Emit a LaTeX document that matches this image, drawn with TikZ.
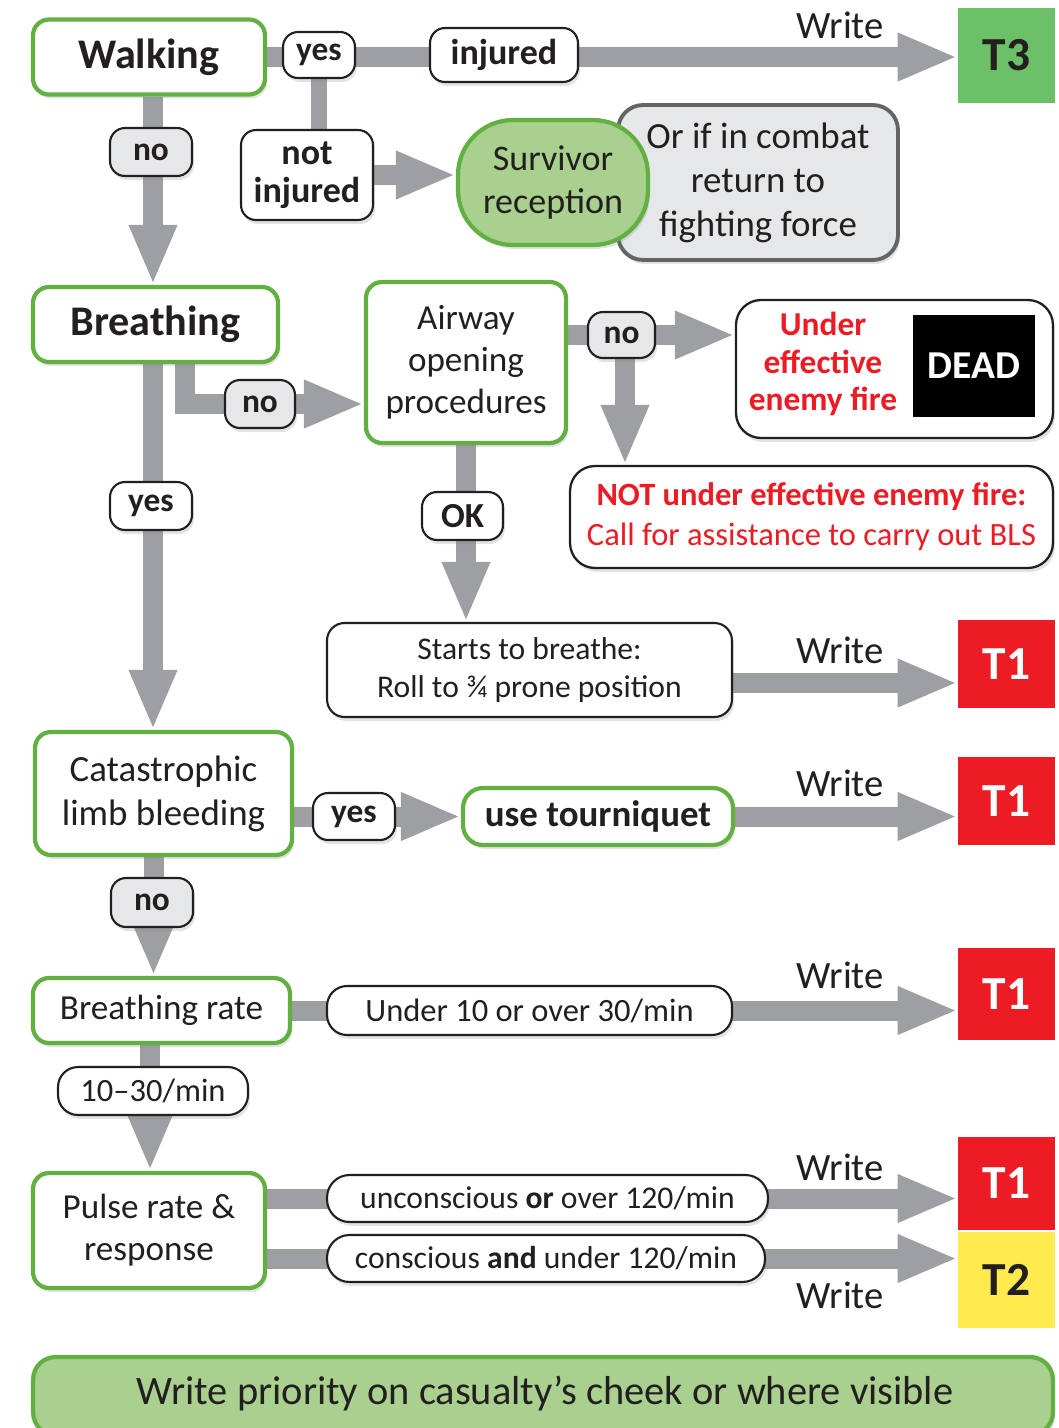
\documentclass[tikz,border=0pt]{standalone}
\usepackage{fontspec}
\setmainfont{Carlito}
\usepackage{tikz}
\usetikzlibrary{arrows.meta, positioning, shadows}
\definecolor{mygreen}{RGB}{98,175,66}
\definecolor{mylightgreen}{RGB}{169,208,142}
\definecolor{mytgreen}{RGB}{108,192,103}
\definecolor{myred}{RGB}{237,28,36}
\definecolor{myyellow}{RGB}{255,235,80}
\definecolor{mygray}{RGB}{157,159,162}
\definecolor{mylightgray}{RGB}{230,231,232}
\definecolor{mydarkgray}{RGB}{99,100,102}
\definecolor{mydark}{RGB}{35,31,32}
\pgfdeclarelayer{bg}
\pgfsetlayers{bg,main}
\tikzset{
  myshadow/.style={drop shadow={shadow xshift=0.04cm, shadow yshift=-0.08cm, opacity=0.22}},
  block/.style={rectangle, draw=mygreen, fill=white, line width=2.4pt, rounded corners=0.32cm,
    align=center, text=mydark, inner sep=0pt, myshadow, font=\fontsize{20}{24}\selectfont},
  lbl/.style={rectangle, draw=mydark, fill=white, line width=1.2pt, rounded corners=0.3cm,
    align=center, text=mydark, inner sep=0pt, myshadow, font=\bfseries\fontsize{19}{22}\selectfont},
  nolbl/.style={lbl, fill=mylightgray},
  tbox/.style={rectangle, inner sep=0pt, minimum width=1.94cm, text=mydark,
    font=\bfseries\fontsize{27}{30}\selectfont},
  writetxt/.style={text=mydark, inner sep=0pt, font=\fontsize{22}{26}\selectfont},
  arrow/.style={draw=mygray, line width=0.4cm, -{Triangle[length=1.2cm, width=0.88cm]}},
  line/.style={draw=mygray, line width=0.4cm}
}

\begin{document}
\begin{tikzpicture}[x=0.02cm, y=-0.02cm]
  \useasboundingbox (0,0) rectangle (1059,1428);
  % Walking
  \node[block, font=\bfseries\fontsize{24}{28}\selectfont, minimum width=4.64cm, minimum height=1.5cm] (walk) at (149,57) {Walking};
  \node[tbox, fill=mytgreen, minimum height=1.9cm] (t3) at (1006.5,55.5) {T3};
  \node[writetxt] (writeA) at (840,25) {Write};
  \node[lbl, minimum width=1.44cm, minimum height=0.92cm] (yesA) at (319,55) {yes};
  \node[lbl, font=\bfseries\fontsize{20.5}{22}\selectfont, minimum width=2.96cm, minimum height=1.08cm] (injured) at (504,55) {injured};
  \node[lbl, font=\bfseries\fontsize{20.5}{22}\selectfont, minimum width=2.64cm, minimum height=1.8cm] (notinj) at (307,175) {not\\injured};
  \node[rectangle, draw=mydarkgray, fill=mylightgray, line width=2.2pt, rounded corners=0.5cm, myshadow,
    text=mydark, align=center, inner sep=0pt, font=\fontsize{21}{25}\selectfont,
    minimum width=5.6cm, minimum height=3.1cm] (combat) at (758,182.5) {Or if in combat\\return to\\fighting force};
  \node[block, fill=mylightgreen, rounded corners=1.1cm, font=\fontsize{20.5}{25}\selectfont,
    minimum width=3.8cm, minimum height=2.5cm] (surv) at (553,182.5) {Survivor\\reception};
  \node[nolbl, minimum width=1.64cm, minimum height=0.96cm] (noA) at (151,152) {no};
  % Breathing
  \node[block, font=\bfseries\fontsize{24}{28}\selectfont, minimum width=4.9cm, minimum height=1.5cm] (breath) at (155.5,324.5) {Breathing};
  \node[block, minimum width=4cm, minimum height=3.22cm] (airway) at (466,362.5) {Airway\\opening\\procedures};
  \node[nolbl, minimum width=1.4cm, minimum height=0.96cm] (noB) at (260,404) {no};
  \node[nolbl, minimum width=1.34cm, minimum height=0.92cm] (noC) at (621.5,335) {no};
  \node[lbl, line width=1.3pt, rounded corners=0.5cm, minimum width=6.34cm, minimum height=2.76cm] (dead) at (894.5,369) {};
  \node[text=myred, align=center, inner sep=0pt, font=\bfseries\fontsize{19}{21.5}\selectfont] (deadtxt) at (823,364) {Under\\effective\\enemy fire};
  \node[rectangle, fill=black, text=white, inner sep=0pt, font=\bfseries\fontsize{22.5}{26}\selectfont,
    minimum width=2.44cm, minimum height=2.04cm] (deadbox) at (974,366) {DEAD};
  \node[lbl, line width=1.3pt, rounded corners=0.5cm, text=myred, font=\fontsize{18.5}{22.7}\selectfont,
    minimum width=9.66cm, minimum height=2.04cm] (notfire) at (811.5,517) {{\bfseries NOT under effective enemy fire:}\\Call for assistance to carry out BLS};
  \node[lbl, font=\bfseries\fontsize{20}{22}\selectfont, minimum width=1.62cm, minimum height=0.96cm] (ok) at (462.5,516) {OK};
  \node[lbl, font=\fontsize{18}{21.5}\selectfont, rounded corners=0.35cm, minimum width=8.1cm, minimum height=1.88cm] (starts) at (529.5,670) {Starts to breathe:\\Roll to ¾ prone position};
  \node[tbox, fill=myred, text=white, minimum height=1.76cm] (t1a) at (1006.5,664) {T1};
  \node[writetxt] (writeB) at (840,650) {Write};
  \node[lbl, minimum width=1.64cm, minimum height=0.96cm] (yesB) at (151,506) {yes};
  % Catastrophic limb bleeding
  \node[block, font=\fontsize{21}{25}\selectfont, minimum width=5.14cm, minimum height=2.46cm] (cat) at (163.5,793.5) {Catastrophic\\limb bleeding};
  \node[block, font=\bfseries\fontsize{21}{25}\selectfont, rounded corners=0.4cm, minimum width=5.4cm, minimum height=1.14cm] (tour) at (598,816.5) {use tourniquet};
  \node[lbl, minimum width=1.64cm, minimum height=0.94cm] (yesC) at (354,816.5) {yes};
  \node[tbox, fill=myred, text=white, minimum height=1.76cm] (t1b) at (1006.5,801) {T1};
  \node[writetxt] (writeC) at (840,783) {Write};
  \node[nolbl, minimum width=1.64cm, minimum height=0.98cm] (noD) at (152,902.5) {no};
  % Breathing rate
  \node[block, minimum width=5.14cm, minimum height=1.3cm] (brate) at (161.5,1010.5) {Breathing rate};
  \node[lbl, font=\fontsize{18.5}{22}\selectfont, rounded corners=0.4cm, minimum width=8.1cm, minimum height=0.98cm] (under) at (529.5,1010.5) {Under 10 or over 30/min};
  \node[tbox, fill=myred, text=white, minimum height=1.84cm] (t1c) at (1006.5,994) {T1};
  \node[writetxt] (writeD) at (840,975) {Write};
  \node[lbl, font=\fontsize{18.5}{22}\selectfont, rounded corners=0.4cm, minimum width=3.8cm, minimum height=0.96cm] (range) at (153,1091) {10--30/min};
  % Pulse rate & response
  \node[block, minimum width=4.64cm, minimum height=2.3cm] (pulse) at (149,1230.5) {Pulse rate \&\\response};
  \node[lbl, font=\fontsize{18}{22}\selectfont, rounded corners=0.45cm, minimum width=8.82cm, minimum height=0.94cm] (unc) at (547.5,1198.5) {unconscious \textbf{or} over 120/min};
  \node[lbl, font=\fontsize{18}{22}\selectfont, rounded corners=0.45cm, minimum width=8.76cm, minimum height=0.94cm] (con) at (546,1258.5) {conscious \textbf{and} under 120/min};
  \node[tbox, fill=myred, text=white, minimum height=1.86cm] (t1d) at (1006.5,1183.5) {T1};
  \node[tbox, fill=myyellow, minimum height=1.92cm] (t2) at (1006.5,1280) {T2};
  \node[writetxt] (writeE) at (840,1167) {Write};
  \node[writetxt] (writeF) at (840,1295) {Write};
  % Bottom note
  \node[block, fill=mylightgreen, rounded corners=0.45cm, font=\fontsize{23}{27}\selectfont,
    minimum width=20.4cm, minimum height=1.56cm] (note) at (543,1396) {};
  \node[text=mydark, inner sep=0pt, font=\fontsize{23}{27}\selectfont] (notetxt) at (545,1393) {Write priority on casualty’s cheek or where visible};
  % Connectors
  \begin{pgfonlayer}{bg}
    \draw[arrow] (walk.east) -- (walk.east -| t3.west);
    \draw[line, line width=0.32cm] (yesA.south) -- (yesA.south |- notinj.north);
    \draw[arrow] (notinj.east) -- (notinj.east -| surv.west);
    \draw[arrow] ([xshift=0.08cm]walk.south) -- ([xshift=0.08cm]walk.south |- breath.north);
    \draw[arrow] ([xshift=-0.05cm]breath.south) -- ([xshift=-0.05cm]breath.south |- cat.north);
    \draw[arrow] ([xshift=0.6cm]breath.south) |- (airway.west |- noB);
    \draw[arrow] (airway.east |- noC) -- (dead.west |- noC);
    \draw[arrow] ([xshift=0.07cm]noC.south) -- ([xshift=0.07cm]noC.south |- notfire.north);
    \draw[arrow] (airway.south) -- (airway.south |- starts.north);
    \draw[arrow] ([yshift=-0.26cm]starts.east) -- ([yshift=-0.26cm]starts.east -| t1a.west);
    \draw[arrow] (cat.east |- tour) -- (tour.west);
    \draw[arrow] (tour.east) -- (tour.east -| t1b.west);
    \draw[arrow] ([xshift=-0.2cm]cat.south) -- ([xshift=-0.2cm]cat.south |- brate.north);
    \draw[arrow] (brate.east) -- (brate.east -| t1c.west);
    \draw[arrow] ([xshift=-0.23cm]brate.south) -- ([xshift=-0.23cm]brate.south |- pulse.north);
    \draw[arrow] (pulse.east |- unc) -- (unc -| t1d.west);
    \draw[arrow] (pulse.east |- con) -- (con -| t2.west);
  \end{pgfonlayer}
\end{tikzpicture}
\end{document}
